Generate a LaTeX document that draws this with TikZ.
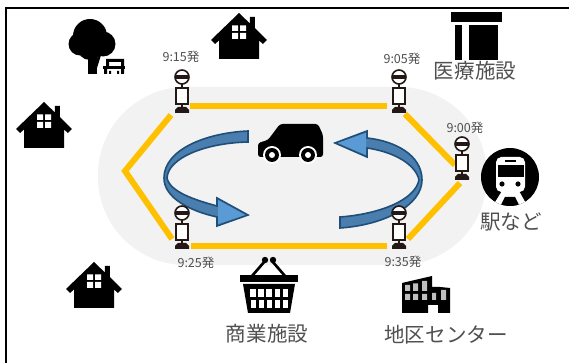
\documentclass[tikz,border=0pt]{standalone}
\usepackage{fontspec}
\setmainfont{Noto Sans CJK JP}
\definecolor{road}{HTML}{FFC000}
\definecolor{zone}{HTML}{F2F2F2}
\definecolor{bandblue}{HTML}{4A7EAE}
\definecolor{headblue}{HTML}{5B9BD5}
\definecolor{edgeblue}{HTML}{1F4E79}
\definecolor{stopink}{HTML}{231815}
\definecolor{labelgrey}{HTML}{505050}
\tikzset{
  x=0.75pt,y=-0.75pt,
  roadline/.style={draw=road,line width=4.5pt},
  timelabel/.style={text=labelgrey,font=\fontsize{9.4pt}{11pt}\selectfont,inner sep=0pt},
  placelabel/.style={text=labelgrey,font=\fontsize{15.4pt}{18pt}\selectfont,inner sep=0pt},
  flowarrow/.style={draw=edgeblue,line width=1.2pt,fill=bandblue,line join=miter},
  busstop/.pic={
    \draw[stopink,line width=1.1pt] (0,0) -- (0,30);
    \draw[stopink,line width=1.2pt,fill=white] (0,0) circle (7);
    \fill[stopink] (-7,-1.6) rectangle (7,1.6);
    \draw[stopink,line width=1.3pt,fill=white] (-6,11) rectangle (6,27);
    \fill[stopink] (-4,30) -- (4,30) -- (7,33) -- (7,36) -- (-7,36) -- (-7,33) -- cycle;
  },
  house/.pic={
    \fill[black] (0,0) -- (10.8,10.4) -- (10.8,4) -- (15.8,4) -- (15.8,15) -- (28,27) -- (24,31) -- (20,27.5) -- (20,46) -- (-20,46) -- (-20,27.5) -- (-24,31) -- (-28,27) -- cycle;
    \fill[white] (-7,24.5-12) rectangle (-1,30-12) (1,24.5-12) rectangle (7,30-12) (-7,20) rectangle (-1,26) (1,20) rectangle (7,26);
  }
}
\begin{document}
\begin{tikzpicture}
\useasboundingbox (0,0) rectangle (569,363);
\fill[white] (0,0) rectangle (569,363);
\draw[black,line width=1.2pt] (6,363) -- (6,8) -- (569,8);

% service zone
\fill[zone,rounded corners=66pt] (98,87) rectangle (487,265);

% route
\coordinate (r1) at (190,106); \coordinate (r2) at (387,106);
\coordinate (r3) at (405,114); \coordinate (r4) at (455,165);
\coordinate (r5) at (460,183); \coordinate (r6) at (408,239);
\coordinate (r7) at (387,246); \coordinate (r8) at (191,246);
\coordinate (r9) at (172,239); \coordinate (r10) at (125,171); \coordinate (r11) at (171,115);
\draw[roadline] (r1) -- (r2);
\draw[roadline] (r3) -- (r4);
\draw[roadline] (r5) -- (r6);
\draw[roadline] (r7) -- (r8);
\draw[roadline,line join=miter] (r9) -- (r10) -- (r11);

% flow arrows
\draw[flowarrow] (248,131) .. controls (205,133) and (164,150) .. (164,178)
  .. controls (164,198) and (190,211) .. (217,217) -- (217,226) -- (248,215) -- (217,198) -- (217,206)
  .. controls (195,200) and (170,192) .. (167,178)
  .. controls (168,158) and (205,143) .. (248,142) -- cycle;
\fill[headblue] (218,200) -- (245,215) -- (218,224) -- cycle;
\draw[flowarrow] (367,138) .. controls (395,141) and (422,155) .. (422,180)
  .. controls (422,205) and (385,225) .. (340,228) -- (340,217)
  .. controls (380,214) and (415,200) .. (419,180)
  .. controls (416,165) and (395,152) .. (367,148) -- (367,157) -- (335,143) -- (367,131) -- cycle;
\fill[headblue] (366,133) -- (338,143) -- (366,155) -- cycle;

% car
\fill[black,rounded corners=2pt] (258,143) -- (268,140) -- (280,124) -- (318,124) -- (323,135) -- (323,157) -- (258,157) -- cycle;
\foreach \wx in {272,308}{
  \fill[white] (\wx,155) circle (9);
  \fill[black] (\wx,155) circle (7);
  \fill[white] (\wx,155) circle (3);
}

% stops
\pic (stopA) at (182,77) {busstop};
\pic (stopB) at (399,77) {busstop};
\pic (stopC) at (462,144) {busstop};
\pic (stopD) at (182,213) {busstop};
\pic (stopE) at (399,213) {busstop};

% houses
\pic (houseA) at (239,13) {house};
\pic (houseB) at (44,102) {house};
\pic (houseC) at (94,262) {house};

% tree and bench
\fill[black] (90,36) circle (17) (80,44) circle (11.5) (103,44) circle (12.5) (90,47) circle (13);
\fill[black] (88,55) rectangle (97,74);
\fill[black] (97,58) -- (102,52) -- (97,68) -- cycle;
\fill[black] (106,59) rectangle (124,62) (106,59) rectangle (109,67) (121,59) rectangle (124,67);
\fill[black] (103,66) rectangle (125,69);
\fill[black] (104,69) rectangle (107,74) (109,71) rectangle (111,74) (117,71) rectangle (119,74) (121,69) rectangle (124,74);

% hospital
\fill[black] (451,12) rectangle (502,22);
\fill[black] (455,25) rectangle (462,60);
\fill[black] (469,25) rectangle (498,60);

% station
\fill[black] (510,177) circle (29);
\fill[white,rounded corners=4pt] (496,157) rectangle (525,192);
\fill[black] (498,165) rectangle (524,177);
\fill[black] (505,160) rectangle (516,162);
\fill[black] (502,184) circle (2.6) (518,184) circle (2.6);
\begin{scope}
\clip (510,177) circle (29);
\fill[white] (502,191) -- (519,191) -- (528,207) -- (492,207) -- cycle;
\fill[black] (505,197) -- (515,197) -- (520,207) -- (500,207) -- cycle;
\end{scope}

% basket
\draw[black,line width=2pt] (252,276) -- (265,261) (285,276) -- (272,261);
\fill[black] (265,260) circle (3.2) (273,260) circle (3.2);
\fill[black] (240,275) rectangle (298,282);
\fill[black] (243,284) -- (295,284) -- (290,313) -- (248,313) -- cycle;
\foreach \cx in {0,1,2,3,4}{
  \fill[white] (250+8.2*\cx,289) rectangle (255.5+8.2*\cx,297);
  \fill[white] (250.7+8*\cx,300) rectangle (255.5+8*\cx,308);
}

% district centre
\fill[black] (402,283) -- (432,276) -- (432,287) -- (440,287) -- (450,288) -- (450,313) -- (438,313) -- (438,305) -- (428,305) -- (428,313) -- (402,313) -- cycle;
\fill[white!75!black] (405,285) rectangle (410,291) (413,283.5) rectangle (418,291) (422,281) rectangle (427,291);
\fill[white!75!black] (405,294) rectangle (410,300) (413,294) rectangle (418,300) (422,294) rectangle (427,300);
\fill[white!75!black] (432,293) rectangle (436,300) (441,290) rectangle (446,300);

% time labels
\node[timelabel] (t915) at (181,57) {9:15発};
\node[timelabel] (t905) at (402,59) {9:05発};
\node[timelabel] (t900) at (465,128) {9:00発};
\node[timelabel] (t925) at (196,263) {9:25発};
\node[timelabel] (t935) at (403,262) {9:35発};

% place labels
\node[placelabel] (hosp) at (475,71) {医療施設};
\node[placelabel] (stat) at (511,222) {駅など};
\node[placelabel] (shop) at (267,334) {商業施設};
\node[placelabel] (dist) at (446,335) {地区センター};
\end{tikzpicture}
\end{document}
